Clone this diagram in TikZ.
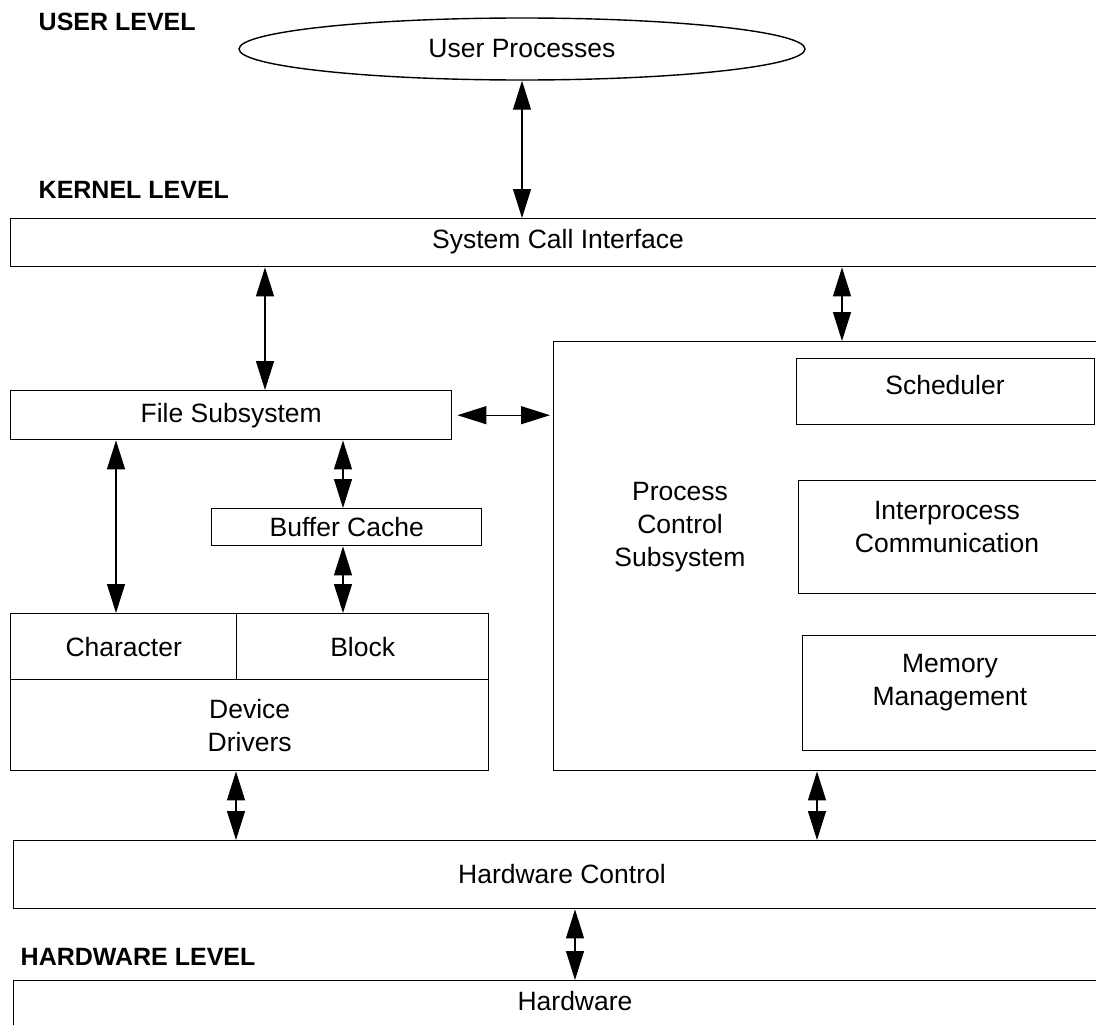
\documentclass[tikz,border=0pt]{standalone}
\usepackage{fontspec}
\setmainfont{Liberation Sans}
\usetikzlibrary{arrows.meta,shapes.geometric}
\begin{document}
\begin{tikzpicture}[x=1pt,y=-1pt,
  line width=1.4pt,
  box/.style={draw, inner sep=0pt, anchor=north west},
  txt/.style={font=\fontsize{26.5}{33}\selectfont, align=center, inner sep=0pt},
  lvl/.style={font=\fontsize{25}{28}\selectfont\bfseries, anchor=west, inner sep=0pt},
  dbl/.style={{Triangle[length=29pt,width=18pt]}-{Triangle[length=29pt,width=18pt]}, line width=1.2pt},
]
\useasboundingbox (0,0) rectangle (1096,1025);
\clip (0,0) rectangle (1096,1025);

% level headings
\node[lvl] (lu) at (38,22) {USER LEVEL};
\node[lvl] (lk) at (38,190) {KERNEL LEVEL};
\node[lvl] (lh) at (20,957) {HARDWARE LEVEL};

% user level
\node[draw, ellipse, minimum width=566pt, minimum height=62pt, inner sep=0pt, txt] (up) at (522,49) {User Processes};

% kernel level boxes
\node[box, minimum width=1120pt, minimum height=48pt] (sci) at (10,218) {};
\node[txt] (scit) at (558,242) {System Call Interface};

\node[box, minimum width=441pt, minimum height=49pt, txt] (fs) at (10,390) {File Subsystem};
\node[box, minimum width=270pt, minimum height=37pt, txt] (bc) at (211,508) {Buffer Cache};

\node[box, minimum width=226pt, minimum height=66pt, txt] (chr) at (10,613) {Character};
\node[box, minimum width=252pt, minimum height=66pt, txt] (blk) at (236,613) {Block};
\node[box, minimum width=478pt, minimum height=91pt, txt] (dd) at (10,679) {Device\\Drivers};

\node[box, minimum width=600pt, minimum height=429pt] (pcs) at (553,341) {};
\node[txt] (pcst) at (680,527) {Process\\Control\\Subsystem};

\node[box, minimum width=298pt, minimum height=66pt] (sch) at (796,358) {};
\node[txt] (scht) at (945,385) {Scheduler};
\node[box, minimum width=320pt, minimum height=113pt] (ipc) at (798,480) {};
\node[txt] (ipct) at (947,527) {Interprocess\\Communication};
\node[box, minimum width=320pt, minimum height=115pt] (mem) at (802,635) {};
\node[txt] (memt) at (950,683) {Memory\\Management};

\node[box, minimum width=1120pt, minimum height=68pt] (hwc) at (13,840) {};
\node[txt] (hwct) at (562,874) {Hardware Control};

% hardware level
\node[box, minimum width=1120pt, minimum height=80pt] (hw) at (13,980) {};
\node[txt] (hwt) at (575,1001) {Hardware};

% arrow columns
\coordinate (c116) at (116,0);
\coordinate (c236) at (236,0);
\coordinate (c265) at (265,0);
\coordinate (c343) at (343,0);
\coordinate (c575) at (575,0);
\coordinate (c817) at (817,0);
\coordinate (c842) at (842,0);

% connectors
\draw[dbl] (up.south) -- (up.south |- sci.north);
\draw[dbl] (c265 |- sci.south) -- (c265 |- fs.north);
\draw[dbl] (c842 |- sci.south) -- (c842 |- pcs.north);
\draw[dbl] ([xshift=5pt]fs.east) -- ([xshift=-3pt]fs.east -| pcs.west);
\draw[dbl] (c116 |- fs.south) -- (c116 |- chr.north);
\draw[dbl] (c343 |- fs.south) -- (c343 |- bc.north);
\draw[dbl] (c343 |- bc.south) -- (c343 |- blk.north);
\draw[dbl] (c236 |- dd.south) -- (c236 |- hwc.north);
\draw[dbl] (c817 |- pcs.south) -- (c817 |- hwc.north);
\draw[dbl] (c575 |- hwc.south) -- (c575 |- hw.north);
\end{tikzpicture}
\end{document}
